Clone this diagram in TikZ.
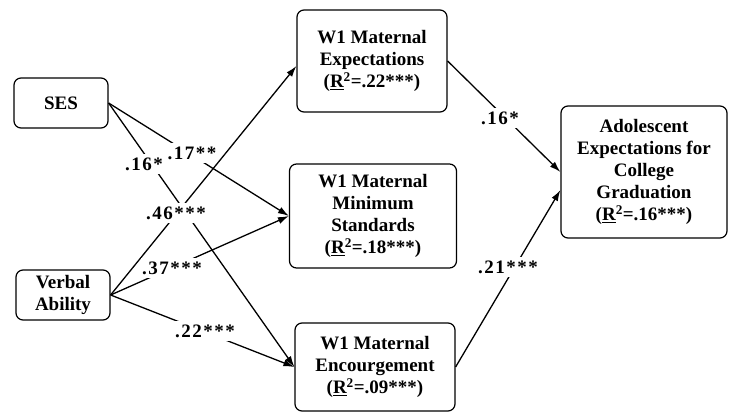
\documentclass[tikz,border=0pt]{standalone}
\usepackage{fontspec}
\setmainfont{Liberation Serif}
\newfontfamily\coeffont{Liberation Serif}[LetterSpace=8]
\usetikzlibrary{arrows.meta}

\tikzset{
  construct/.style={draw, line width=1.2pt, rounded corners=7pt, align=center,
    font=\fontsize{19}{22}\selectfont\bfseries, inner sep=0pt},
  effect/.style={line width=1.3pt, -{Latex[length=11pt,width=7pt]}},
  coef/.style={fill=white, inner xsep=1pt, inner ysep=4pt,
    font=\fontsize{19}{22}\coeffont\bfseries}
}
\newcommand{\rsq}[1]{(\underline{R}\textsuperscript{2}=#1)}

\begin{document}
\begin{tikzpicture}[x=1pt,y=-1pt]
 \useasboundingbox (0,0) rectangle (729,412);
 % predictors
 \node[construct, minimum width=94pt, minimum height=50pt] (ses) at (61,103) {SES};
 \node[construct, minimum width=94pt, minimum height=50pt] (verbal) at (63,295) {Verbal\\Ability};
 % mediators
 \node[construct, minimum width=150pt, minimum height=102pt] (expect) at (372,61) {W1 Maternal\\Expectations\\\rsq{.22***}};
 \node[construct, minimum width=167pt, minimum height=104pt] (minstd) at (373,216) {W1 Maternal\\Minimum\\Standards\\\rsq{.18***}};
 \node[construct, minimum width=160pt, minimum height=88pt] (encour) at (375,367) {W1 Maternal\\Encourgement\\\rsq{.09***}};
 % outcome
 \node[construct, minimum width=166pt, minimum height=132pt] (adol) at (644,172) {Adolescent\\Expectations for\\College\\Graduation\\\rsq{.16***}};

 \draw[effect] (ses.east) -- (minstd.west);
 \draw[effect] (ses.east) -- (encour.west);
 \draw[effect] (verbal.east) -- ([yshift=-5pt]expect.west);
 \draw[effect] (verbal.east) -- (minstd.west);
 \draw[effect] (verbal.east) -- (encour.west);
 \draw[effect] (expect.east) -- (adol.west);
 \draw[effect] (encour.east) -- ([yshift=-18pt]adol.west);

 % path coefficients
 \node[coef] (c1) at (144,164) {.16*};
 \node[coef] (c2) at (192,153) {.17**};
 \node[coef] (c3) at (176,213) {.46***};
 \node[coef] (c4) at (172,268) {.37***};
 \node[coef] (c5) at (205,331) {.22***};
 \node[coef] (c6) at (500,118) {.16*};
 \node[coef] (c7) at (508,267) {.21***};
\end{tikzpicture}
\end{document}
